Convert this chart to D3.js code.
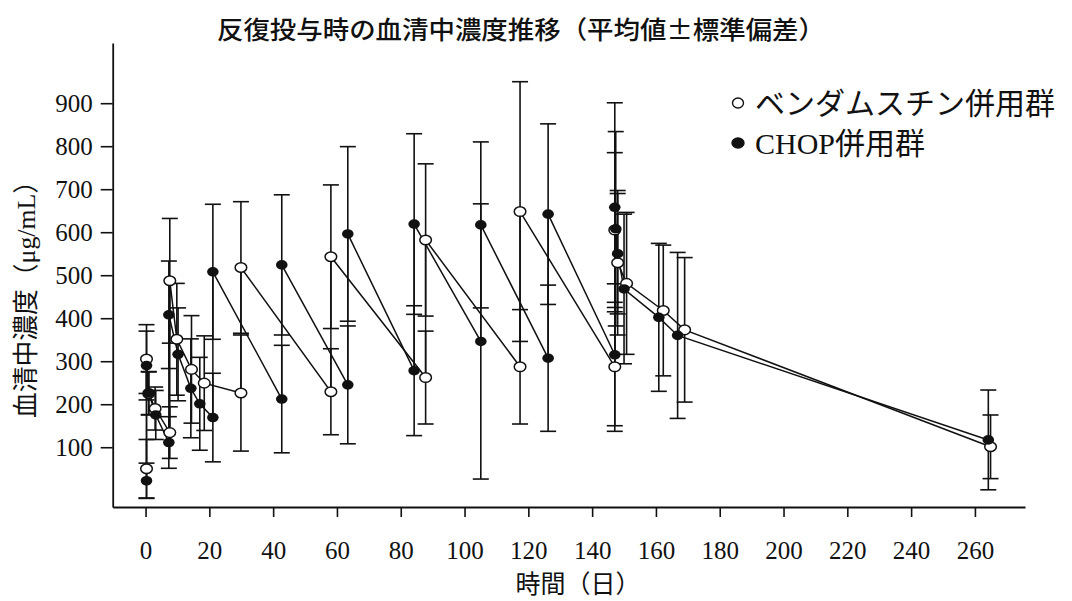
<!DOCTYPE html>
<html>
<head>
<meta charset="utf-8">
<script src="https://cdn.jsdelivr.net/npm/d3@7"></script>
<style>
  body { margin: 0; background: #fff; }
  #chart svg { display: block; }
</style>
</head>
<body>
<div id="chart"></div>
<script>
// ベンダムスチン併用群 (open circles)
const bendaDays = [0.3, 0.3, 1, 3, 7.6, 7.6, 9.8, 14.4, 18.4, 29.9, 29.9, 58.1, 58.1, 87.8, 87.8, 117.4, 117.4, 147.1, 147.1, 148, 150.8, 162.3, 169, 264.9];
const bendaMean = [50, 305, 225, 190, 134, 487, 351, 281, 249, 226, 518, 229, 543, 262, 582, 287, 648, 287, 605, 529, 481, 418, 373, 101];
const bendaSD   = [68, 80, 50, 50, 60, 145, 130, 125, 110, 135, 153, 100, 167, 108, 177, 133, 302, 150, 180, 168, 165, 152, 168, 74];

// CHOP併用群 (filled circles)
const chopDays = [0.3, 0.3, 1, 3.2, 7.3, 7.3, 10.2, 14.2, 17, 21.1, 21.1, 42.7, 42.7, 63.4, 63.4, 84.2, 84.2, 105.1, 105.1, 126.2, 126.2, 147.1, 147.1, 147.4, 148, 150, 160.9, 166.8, 264.2];
const chopMean = [22, 290, 226, 175, 111, 408, 316, 237, 201, 169, 508, 212, 524, 245, 596, 278, 619, 346, 617, 307, 642, 315, 658, 608, 550, 468, 402, 360, 117];
const chopSD   = [41, 80, 50, 57, 60, 125, 108, 115, 108, 103, 157, 125, 163, 137, 203, 151, 210, 320, 193, 170, 210, 165, 243, 226, 140, 174, 172, 193, 116];

const yTicks = [100, 200, 300, 400, 500, 600, 700, 800, 900];
const xTicks = [0, 20, 40, 60, 80, 100, 120, 140, 160, 180, 200, 220, 240, 260];

const width = 1072;
const height = 601;

const svg = d3.select("#chart")
    .append("svg")
    .attr("width", width)
    .attr("height", height);

const xScale = d3.scaleLinear()
    .domain([-10.3, 275.7])
    .range([112.7, 1025]);

const yScale = d3.scaleLinear()
    .domain([-39, 1040])
    .range([507, 43]);

const serif = "'Liberation Serif', 'Noto Sans CJK JP', serif";
const cjk = "'Noto Sans CJK JP', sans-serif";

// axes
const xAxis = svg.append("g")
    .attr("transform", `translate(0,${yScale.range()[0]})`)
    .call(d3.axisBottom(xScale).tickValues(xTicks).tickSize(10).tickSizeOuter(0).tickPadding(24));

const yAxis = svg.append("g")
    .attr("transform", `translate(${xScale.range()[0]},0)`)
    .call(d3.axisLeft(yScale).tickValues(yTicks).tickSize(12).tickSizeOuter(0).tickPadding(8));

[xAxis, yAxis].forEach(function(ax) {
    ax.select(".domain").attr("stroke", "#111").attr("stroke-width", 1.8);
    ax.selectAll(".tick line").attr("stroke", "#111").attr("stroke-width", 1.6);
    ax.selectAll(".tick text")
        .attr("fill", "#111")
        .style("font-family", serif)
        .style("font-size", "25px");
});

function drawSeries(days, mean, sd) {
    const pts = days.map(function(d, i) { return {day: d, v: mean[i], sd: sd[i]}; });
    const g = svg.append("g");

    // error bars
    const bars = g.selectAll(".bar")
        .data(pts)
        .enter()
        .append("g");

    bars.append("line")
        .attr("x1", function(d) { return xScale(d.day); })
        .attr("x2", function(d) { return xScale(d.day); })
        .attr("y1", function(d) { return yScale(d.v - d.sd); })
        .attr("y2", function(d) { return yScale(d.v + d.sd); })
        .attr("stroke", "#111")
        .attr("stroke-width", 1.6);

    [-1, 1].forEach(function(s) {
        bars.append("line")
            .attr("x1", function(d) { return xScale(d.day) - 8; })
            .attr("x2", function(d) { return xScale(d.day) + 8; })
            .attr("y1", function(d) { return yScale(d.v + s * d.sd); })
            .attr("y2", function(d) { return yScale(d.v + s * d.sd); })
            .attr("stroke", "#111")
            .attr("stroke-width", 1.6);
    });

    const line = d3.line()
        .x(function(d) { return xScale(d.day); })
        .y(function(d) { return yScale(d.v); });

    g.append("path")
        .datum(pts)
        .attr("d", line)
        .attr("fill", "none")
        .attr("stroke", "#111")
        .attr("stroke-width", 1.5);

    return pts;
}

const bendaPts = drawSeries(bendaDays, bendaMean, bendaSD);
const chopPts = drawSeries(chopDays, chopMean, chopSD);

// markers on top
svg.append("g").selectAll("ellipse")
    .data(bendaPts)
    .enter()
    .append("ellipse")
    .attr("cx", function(d) { return xScale(d.day); })
    .attr("cy", function(d) { return yScale(d.v); })
    .attr("rx", 5.8)
    .attr("ry", 4.8)
    .attr("fill", "#fff")
    .attr("stroke", "#111")
    .attr("stroke-width", 1.5);

svg.append("g").selectAll("ellipse")
    .data(chopPts)
    .enter()
    .append("ellipse")
    .attr("cx", function(d) { return xScale(d.day); })
    .attr("cy", function(d) { return yScale(d.v); })
    .attr("rx", 5.8)
    .attr("ry", 4.8)
    .attr("fill", "#111");

// title
svg.append("text")
    .attr("x", 521)
    .attr("y", 39)
    .attr("text-anchor", "middle")
    .style("font-family", cjk)
    .style("font-size", "25px")
    .style("font-weight", 500)
    .attr("fill", "#111")
    .attr("textLength", 608)
    .attr("lengthAdjust", "spacingAndGlyphs")
    .text("反復投与時の血清中濃度推移（平均値±標準偏差）");

// axis labels
svg.append("text")
    .attr("x", 578)
    .attr("y", 593)
    .attr("text-anchor", "middle")
    .style("font-family", serif)
    .style("font-size", "25px")
    .attr("fill", "#111")
    .text("時間（日）");

svg.append("text")
    .attr("transform", "translate(35,293) rotate(-90)")
    .attr("text-anchor", "middle")
    .style("font-family", serif)
    .style("font-size", "26px")
    .attr("fill", "#111")
    .attr("textLength", 250)
    .attr("lengthAdjust", "spacingAndGlyphs")
    .text("血清中濃度（μg/mL）");

// legend
const legendItems = ["ベンダムスチン併用群", "CHOP併用群"];
const legend = svg.append("g");
legendItems.forEach(function(name, i) {
    const ly = 103 + i * 40;
    legend.append("ellipse")
        .attr("cx", 738)
        .attr("cy", ly)
        .attr("rx", i === 0 ? 5.5 : 6)
        .attr("ry", 5)
        .attr("fill", i === 0 ? "#fff" : "#111")
        .attr("stroke", "#111")
        .attr("stroke-width", 1.4);
    legend.append("text")
        .attr("x", 755)
        .attr("y", ly + 11)
        .style("font-family", serif)
        .style("font-size", "30px")
        .attr("fill", "#111")
        .text(name);
});
</script>
</body>
</html>
